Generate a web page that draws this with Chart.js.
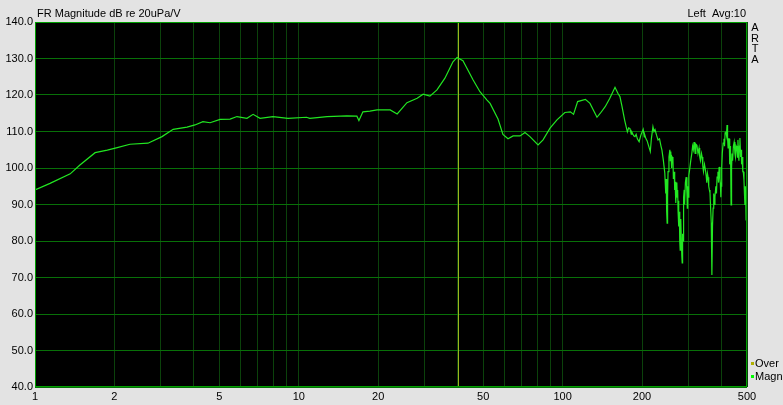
<!DOCTYPE html>
<html>
<head>
<meta charset="utf-8">
<script src="https://cdn.jsdelivr.net/npm/chart.js@4"></script>
<style>
  html, body { margin: 0; padding: 0; background: #e3e3e3; }
  #wrap { position: relative; width: 783px; height: 405px; }
</style>
</head>
<body>
<div id="wrap"><canvas id="frChart" width="783" height="405"></canvas></div>
<script>
// Frequency (Hz) and magnitude (dB re 20uPa/V)
const freqs = [
    1.00, 1.14, 1.36, 1.48, 1.69, 1.88, 2.05, 2.29, 2.68, 3.03,
    3.34, 3.77, 4.04, 4.33, 4.61, 5.03, 5.49, 5.83, 6.36, 6.71,
    7.13, 7.98, 9.10, 10.7, 11.0, 12.8, 15.2, 16.6, 16.9, 17.5,
    18.6, 19.8, 22.2, 23.6, 25.7, 28.1, 29.6, 31.4, 33.4, 35.8,
    38.4, 39.8, 41.9, 45.8, 48.6, 51.7, 53.1, 56.9, 59.4, 62.1,
    64.9, 69.0, 72.0, 75.2, 80.7, 84.3, 89.6, 95.2, 102, 107,
    110, 114, 122, 127, 135, 139, 145, 151, 158, 162,
    165, 168, 172, 176, 178, 180, 182, 183, 186, 188,
    190, 192, 195, 198, 202, 204, 205, 207, 209, 212,
    215, 217, 220, 222, 224, 227, 230, 233, 236, 238,
    241, 244, 246, 247, 248, 249, 250, 251, 253, 255,
    256, 257, 259, 260, 262, 263, 265, 266, 267, 268,
    269, 270, 271, 272, 273, 274, 275, 276, 277, 278,
    279, 280, 281, 282, 283, 284, 285, 286, 287, 288,
    289, 290, 292, 294, 296, 297, 298, 299, 301, 304,
    306, 309, 311, 313, 315, 317, 318, 320, 323, 326,
    329, 331, 333, 336, 338, 340, 342, 345, 347, 350,
    352, 354, 356, 358, 360, 362, 364, 366, 368, 370,
    372, 374, 376, 378, 381, 383, 385, 388, 390, 392,
    395, 396, 398, 399, 401, 403, 406, 409, 411, 413,
    416, 418, 420, 422, 424, 426, 428, 430, 432, 433,
    435, 437, 439, 441, 444, 447, 450, 452, 455, 458,
    460, 462, 464, 466, 468, 470, 473, 475, 477, 479,
    482, 484, 487, 489, 491, 493, 494, 496, 498, 500
];
const magn = [
    94.0, 95.8, 98.4, 100.8, 104.2, 104.9, 105.6, 106.5, 106.8, 108.6,
    110.6, 111.2, 111.8, 112.7, 112.4, 113.3, 113.4, 114.1, 113.6, 114.7,
    113.6, 114.1, 113.6, 113.9, 113.6, 114.1, 114.3, 114.2, 113.0, 115.4,
    115.6, 115.9, 115.9, 114.8, 117.9, 119.1, 120.2, 119.7, 121.4, 124.6,
    129.1, 130.3, 129.4, 124.1, 120.9, 118.6, 117.7, 113.4, 109.2, 108.0,
    108.8, 108.8, 109.7, 108.6, 106.3, 107.7, 110.9, 113.2, 115.2, 115.4,
    114.7, 118.2, 118.8, 117.7, 113.9, 115.0, 116.8, 119.1, 122.1, 120.5,
    119.5, 116.8, 113.0, 109.9, 111.0, 110.8, 109.3, 109.9, 108.8, 108.6,
    109.2, 108.0, 107.2, 109.0, 110.6, 108.5, 109.0, 108.0, 107.5, 106.0,
    104.5, 108.0, 111.3, 110.0, 110.5, 109.0, 107.7, 108.0, 106.0, 104.9,
    102.0, 98.6, 93.0, 97.0, 88.0, 84.9, 92.0, 99.0, 103.0, 105.0,
    102.0, 104.5, 100.0, 103.0, 102.5, 97.0, 99.0, 94.0, 96.2, 91.0,
    90.4, 95.0, 96.0, 92.0, 94.0, 88.0, 91.0, 84.0, 88.0, 80.0,
    77.5, 84.0, 86.0, 80.0, 76.0, 74.0, 82.0, 80.0, 88.0, 92.0,
    94.0, 90.0, 96.0, 97.5, 93.0, 89.0, 95.0, 92.0, 98.0, 100.3,
    102.0, 104.1, 106.0, 105.0, 107.1, 105.0, 104.0, 106.5, 106.2, 104.0,
    105.5, 103.0, 102.0, 104.0, 103.0, 100.5, 99.0, 101.0, 100.0, 98.0,
    96.0, 98.5, 97.5, 95.0, 94.0, 93.2, 89.0, 85.0, 70.7, 84.0,
    89.0, 93.0, 90.0, 92.1, 95.0, 93.0, 97.5, 99.0, 96.0, 100.3,
    97.0, 96.0, 92.0, 95.0, 100.0, 104.0, 106.8, 108.0, 106.0, 109.6,
    110.0, 109.0, 111.8, 108.0, 105.5, 108.0, 108.0, 101.0, 103.0, 106.0,
    89.9, 100.0, 104.0, 102.0, 106.0, 107.1, 104.0, 103.0, 106.0, 105.5,
    103.0, 107.7, 104.0, 102.0, 106.0, 108.2, 103.0, 105.0, 101.0, 103.0,
    99.0, 99.0, 96.7, 93.0, 89.9, 95.0, 94.0, 85.8, 94.0, 101.4
];
const xTickLabels = [1, 2, 5, 10, 20, 50, 100, 200, 500];
const xGridLines = [1, 2, 3, 4, 5, 6, 7, 8, 9, 10, 20, 30, 40, 50, 60, 70, 80, 90, 100, 200, 300, 400, 500];
const cursorFreq = 40;

const uiFont = '"Liberation Sans", Arial, sans-serif';

const artaPlugin = {
    id: 'artaFrame',
    beforeDraw(chart) {
        const ctx = chart.ctx;
        const a = chart.chartArea;
        ctx.save();
        ctx.fillStyle = '#e3e3e3';
        ctx.fillRect(0, 0, chart.width, chart.height);
        ctx.fillStyle = '#000000';
        ctx.fillRect(a.left, a.top, a.right - a.left, a.bottom - a.top);
        ctx.restore();
    },
    beforeDatasetsDraw(chart) {
        // cursor line at 40 Hz
        const ctx = chart.ctx;
        const a = chart.chartArea;
        const x = Math.round(chart.scales.x.getPixelForValue(cursorFreq)) + 0.5;
        ctx.save();
        ctx.strokeStyle = '#9cb41c';
        ctx.lineWidth = 1;
        ctx.beginPath();
        ctx.moveTo(x, a.top);
        ctx.lineTo(x, a.bottom);
        ctx.stroke();
        ctx.restore();
    },
    afterDraw(chart) {
        const ctx = chart.ctx;
        const a = chart.chartArea;
        ctx.save();
        // frame
        ctx.strokeStyle = '#00a000';
        ctx.lineWidth = 1;
        ctx.strokeRect(a.left + 0.5, a.top + 0.5, a.right - a.left - 1, a.bottom - a.top - 1);

        ctx.fillStyle = '#000000';
        ctx.font = '11px ' + uiFont;
        ctx.textBaseline = 'middle';
        ctx.textAlign = 'left';
        ctx.fillText('FR Magnitude dB re 20uPa/V', a.left + 2, 14);
        ctx.textAlign = 'right';
        ctx.fillText('Left  Avg:10', a.right - 1, 14);

        // ARTA, stacked vertically
        ctx.textAlign = 'center';
        ['A', 'R', 'T', 'A'].forEach((ch, i) => {
            ctx.fillText(ch, a.right + 8, 28 + i * 10.7);
        });

        // legend
        ctx.textAlign = 'left';
        ctx.fillStyle = '#b0b000';
        ctx.fillRect(a.right + 4, 362, 3, 3);
        ctx.fillStyle = '#00ff00';
        ctx.fillRect(a.right + 4, 375, 3, 3);
        ctx.fillStyle = '#000000';
        ctx.fillText('Over', a.right + 8, 364);
        ctx.fillText('Magn', a.right + 8, 377);
        ctx.restore();
    }
};

const points = freqs.map((f, i) => ({ x: f, y: magn[i] }));

new Chart(document.getElementById('frChart'), {
    type: 'scatter',
    data: {
        datasets: [{
            label: 'Magn',
            data: points,
            showLine: true,
            borderColor: '#22e622',
            borderWidth: 1.2,
            pointRadius: 0,
            tension: 0
        }]
    },
    options: {
        responsive: false,
        animation: false,
        layout: { padding: { top: 22, right: 36, bottom: 0, left: 0 } },
        plugins: {
            legend: { display: false },
            tooltip: { enabled: false }
        },
        scales: {
            x: {
                type: 'logarithmic',
                min: 1,
                max: 500,
                afterBuildTicks: axis => {
                    axis.ticks = xGridLines.map(v => ({ value: v }));
                },
                afterFit: s => { s.height = 18; },
                ticks: {
                    autoSkip: false,
                    maxRotation: 0,
                    padding: 3,
                    color: '#000000',
                    font: { family: uiFont, size: 11 },
                    callback: v => xTickLabels.includes(v) ? String(v) : ''
                },
                grid: { color: '#0b420b', drawTicks: false },
                border: { display: false }
            },
            y: {
                min: 40,
                max: 140,
                afterFit: s => { s.width = 35; },
                ticks: {
                    stepSize: 10,
                    padding: 2,
                    color: '#000000',
                    font: { family: uiFont, size: 11 },
                    callback: v => v.toFixed(1)
                },
                grid: { color: '#087008', drawTicks: false },
                border: { display: false }
            }
        }
    },
    plugins: [artaPlugin]
});
</script>
</body>
</html>
